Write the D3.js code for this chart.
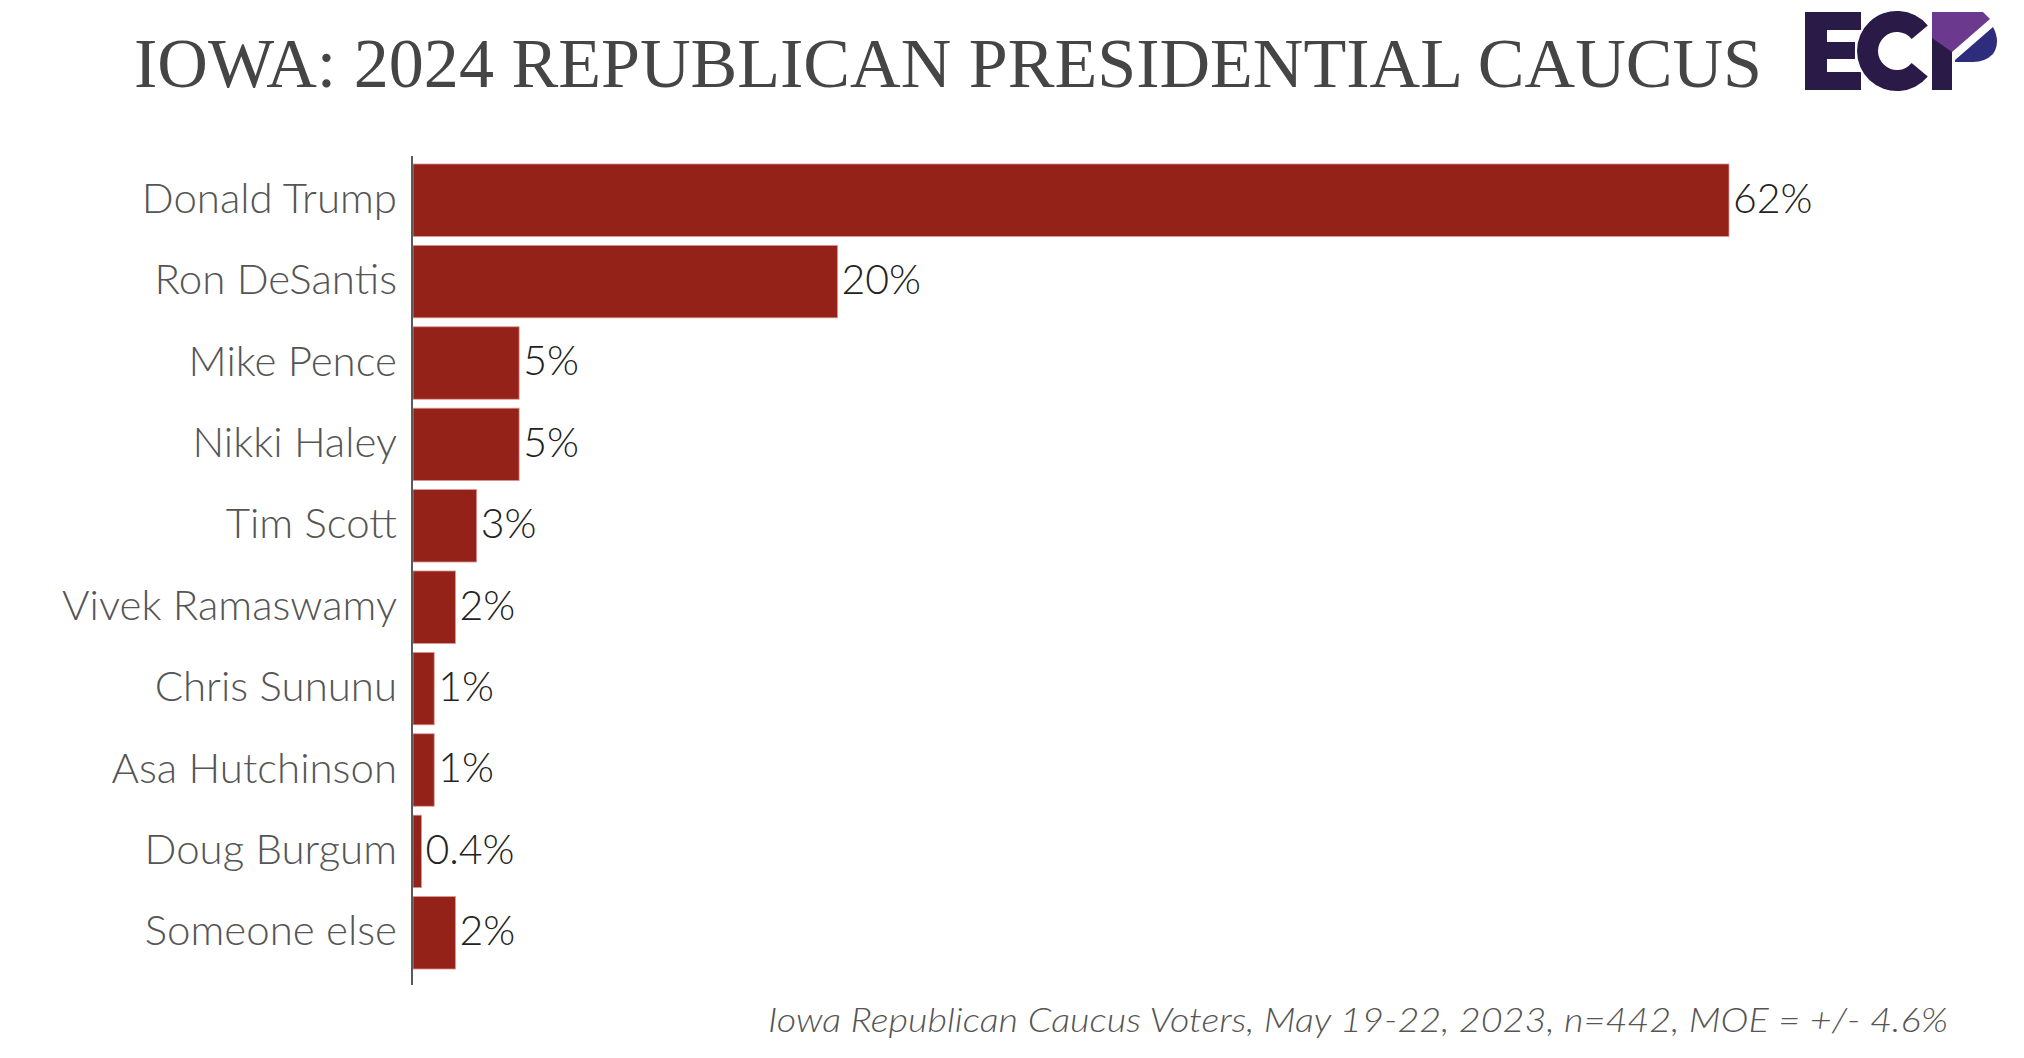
<!DOCTYPE html>
<html>
<head>
<meta charset="utf-8">
<script src="https://cdn.jsdelivr.net/npm/d3@7"></script>
<style>
  html, body { margin: 0; padding: 0; background: #ffffff; }
  svg { display: block; }
</style>
</head>
<body>
<div id="chart"></div>
<script>
// chart data
const candidates = ["Donald Trump", "Ron DeSantis", "Mike Pence", "Nikki Haley", "Tim Scott",
                    "Vivek Ramaswamy", "Chris Sununu", "Asa Hutchinson", "Doug Burgum", "Someone else"];
const support = [62, 20, 5, 5, 3, 2, 1, 1, 0.4, 2];
const titleText = "IOWA: 2024 REPUBLICAN PRESIDENTIAL CAUCUS";
const noteText = "Iowa Republican Caucus Voters, May 19-22, 2023, n=442, MOE = +/- 4.6%";

(function (d3) {
    "use strict";

    const width = 2024;
    const height = 1058;
    const axisX = 412;
    const sans = "Lato, 'Open Sans', 'DejaVu Sans', sans-serif";

    const svg = d3.select("#chart")
        .append("svg")
            .attr("width", width)
            .attr("height", height);

    // title
    svg.append("text")
        .attr("x", 134)
        .attr("y", 87)
        .attr("textLength", 1628)
        .attr("lengthAdjust", "spacingAndGlyphs")
        .style("font-family", "'Liberation Serif', 'DejaVu Serif', serif")
        .style("font-size", "70px")
        .style("fill", "#454545")
        .text(titleText);

    // scales
    const y = d3.scaleBand()
        .domain(candidates)
        .range([159.5, 973.5])
        .paddingInner(0.11)
        .paddingOuter(0.055);

    const x = d3.scaleLinear()
        .domain([0, 62])
        .range([axisX + 1, 1729]);

    const rows = candidates.map((name, i) => ({ name: name, value: support[i] }));

    // bars
    svg.append("g")
        .attr("class", "bars")
        .selectAll("rect")
        .data(rows)
        .enter()
        .append("rect")
            .attr("x", x(0))
            .attr("y", d => y(d.name))
            .attr("width", d => x(d.value) - x(0))
            .attr("height", y.bandwidth())
            .attr("fill", "#952219")
            .attr("stroke", "#d99a96")
            .attr("stroke-width", 0.8);

    // category labels via a left axis
    const yAxis = d3.axisLeft(y).tickSize(0).tickPadding(15);
    const axisG = svg.append("g")
        .attr("transform", `translate(${axisX},0)`)
        .call(yAxis);
    axisG.select(".domain").remove();
    axisG.selectAll("text")
        .attr("dy", "0.3em")
        .style("font-family", sans)
        .style("font-weight", 300)
        .style("font-size", "42px")
        .style("fill", "#555555");

    // vertical axis line
    svg.append("line")
        .attr("x1", axisX).attr("x2", axisX)
        .attr("y1", 156).attr("y2", 985)
        .attr("stroke", "#5a5a5a")
        .attr("stroke-width", 2);

    // value labels
    svg.append("g")
        .attr("class", "values")
        .selectAll("text")
        .data(rows)
        .enter()
        .append("text")
            .attr("x", d => x(d.value) + 4)
            .attr("y", d => y(d.name) + y.bandwidth() / 2)
            .attr("dy", "0.3em")
            .style("font-family", sans)
            .style("font-weight", 300)
            .style("font-size", "41px")
            .style("fill", "#222222")
            .text(d => d.value + "%");

    // footnote
    svg.append("text")
        .attr("x", 768)
        .attr("y", 1032)
        .attr("textLength", 1180)
        .attr("lengthAdjust", "spacingAndGlyphs")
        .style("font-family", sans)
        .style("font-weight", 300)
        .style("font-style", "italic")
        .style("font-size", "34px")
        .style("fill", "#555555")
        .text(noteText);

    // ECP logo
    const logo = svg.append("g")
        .attr("class", "logo")
        .attr("transform", "translate(1805,12)");
    const dark = "#2a1a48";

    logo.append("path")
        .attr("d", "M0,0 H56 V18 H22 V30 H50 V47 H22 V60 H56 V78 H0 Z")
        .attr("fill", dark);

    logo.append("path")
        .attr("transform", "translate(92,39)")
        .attr("d", d3.arc()
            .innerRadius(19)
            .outerRadius(40)
            .startAngle(Math.PI * 0.72)
            .endAngle(Math.PI * 2.28)())
        .attr("fill", dark)
        .attr("stroke", "#ffffff")
        .attr("stroke-width", 4)
        .style("paint-order", "stroke");

    logo.append("path")
        .attr("d", "M127,0 H147 V78 H127 Z")
        .attr("fill", dark);
    logo.append("path")
        .attr("d", "M127,0 H178 L185,7 L147,40 L127,26 Z")
        .attr("fill", "#6b3a8f");
    logo.append("path")
        .attr("d", "M150,48 L188,15 Q196,30 188,42 Q180,50 168,50 H150 Z")
        .attr("fill", "#2e2c7c");
})(d3);
</script>
</body>
</html>
